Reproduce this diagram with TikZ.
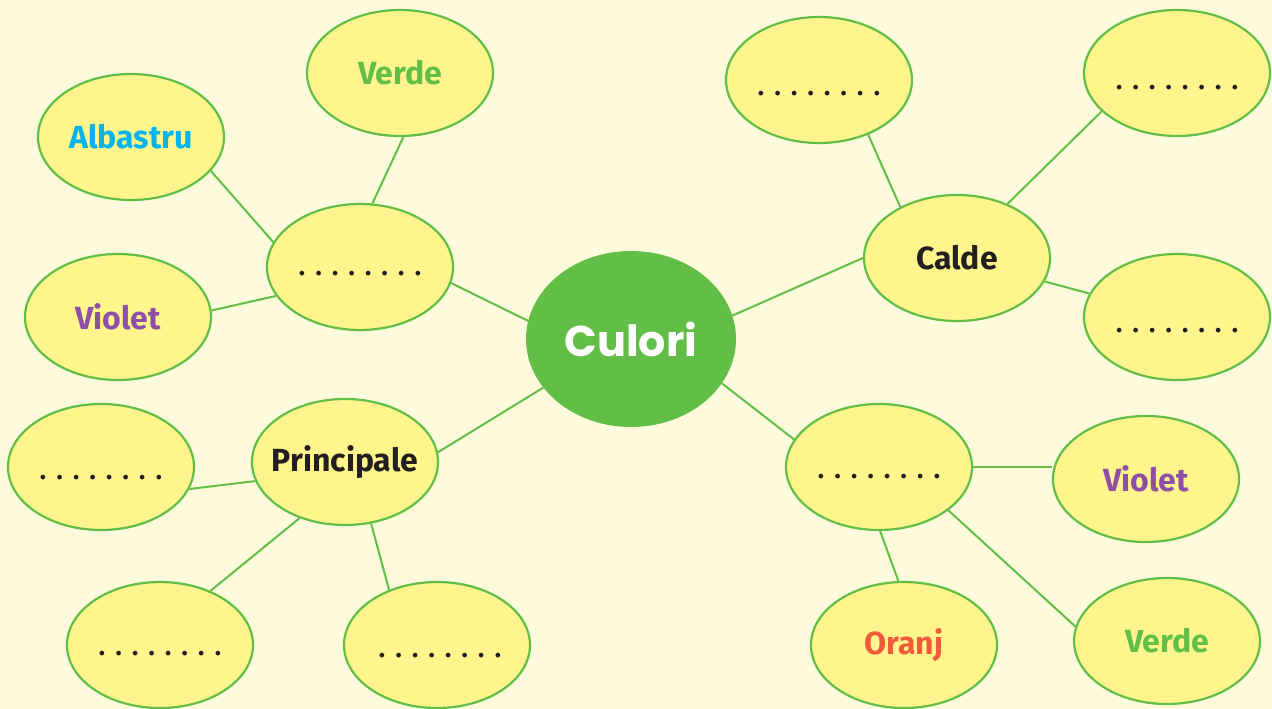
\documentclass[tikz,border=0pt]{standalone}
\usepackage{fontspec}
\setmainfont{Fira Sans}
\newfontfamily\titlefont{Poppins}
\usetikzlibrary{shapes.geometric,backgrounds}
\definecolor{bgc}{HTML}{FEFBDC}
\definecolor{fillc}{HTML}{FFF58C}
\definecolor{grn}{HTML}{62BE46}
\definecolor{blu}{HTML}{00B4EE}
\definecolor{vio}{HTML}{8E4FA8}
\definecolor{ora}{HTML}{F15A3A}
\definecolor{drk}{HTML}{231F20}
\newcommand\dotrow[1]{\raisebox{-#1pt}[0pt][0pt]{.\hskip 10.3pt.\hskip 10.3pt.\hskip 10.3pt.\hskip 10.3pt.\hskip 10.3pt.\hskip 10.3pt.\hskip 10.3pt.}}
\tikzset{
  bubble/.style={ellipse, draw=grn, line width=2.2pt, fill=fillc, minimum width=186pt, minimum height=126pt, inner sep=0pt, inner xsep=-30pt, font=\fontsize{32}{34}\selectfont\bfseries},
  blank/.style={bubble, text=drk, font=\fontsize{26}{28}\selectfont\bfseries},
  hub/.style={ellipse, fill=grn, minimum width=210pt, minimum height=176pt, inner sep=0pt, text=white, font=\titlefont\fontsize{43}{45}\selectfont\bfseries},
  link/.style={draw=grn, line width=2pt}
}
\begin{document}
\begin{tikzpicture}[x=1pt,y=-1pt]
\useasboundingbox (0,0) rectangle (1272,709);
\node[hub] (c) at (631,339) {Culori};
\node[bubble,text=grn] (verde1) at (400,73) {Verde};
\node[bubble,text=blu] (alb) at (131,137) {Albastru};
\node[blank] (d1) at (360,267) {\dotrow{8}};
\node[bubble,text=vio] (vio1) at (118,317) {Violet};
\node[bubble,text=drk] (pri) at (345,462) {Principale};
\node[blank] (d2) at (101,467) {\dotrow{12}};
\node[blank] (d3) at (160,645) {\dotrow{10}};
\node[blank] (d4) at (437,645) {\hspace{6pt}\dotrow{12}};
\node[blank] (d5) at (819,80) {\dotrow{16}};
\node[blank] (d6) at (1177,73) {\dotrow{17}};
\node[bubble,text=drk] (cal) at (957,258) {Calde};
\node[blank] (d7) at (1177,317) {\dotrow{15}};
\node[blank] (d8) at (879,467) {\dotrow{11}};
\node[bubble,text=vio] (vio2) at (1146,479) {Violet};
\node[bubble,text=ora] (ora) at (904,645) {Oranj};
\node[bubble,text=grn] (verde2) at (1167,641) {Verde};
\begin{scope}[on background layer]
\fill[bgc] (0,0) rectangle (1272,709);
\draw[link] (c.170) -- (d1.-10);
\draw[link] (c.209) -- (pri.6);
\draw[link] (c.13) -- (cal.180);
\draw[link] (c.-26) -- (d8.162);
\draw[link] (d1.79) -- (verde1.-87);
\draw[link] (d1.164) -- (alb.-23);
\draw[link] (d1.199) -- (vio1.4);
\draw[link] (pri.192) -- (d2.-14);
\draw[link] (pri.231) -- (d3.47);
\draw[link] (pri.-67) -- (d4.131);
\draw[link] (cal.138) -- (d5.-48);
\draw[link] (cal.47) -- (d6.207);
\draw[link] (cal.-15) -- (d7.165);
\draw[link] (d8.east) -- (vio2.west |- d8.east);
\draw[link] (d8.-89) -- (ora.95);
\draw[link] (d8.-32) -- (verde2.171);
\end{scope}
\end{tikzpicture}
\end{document}
